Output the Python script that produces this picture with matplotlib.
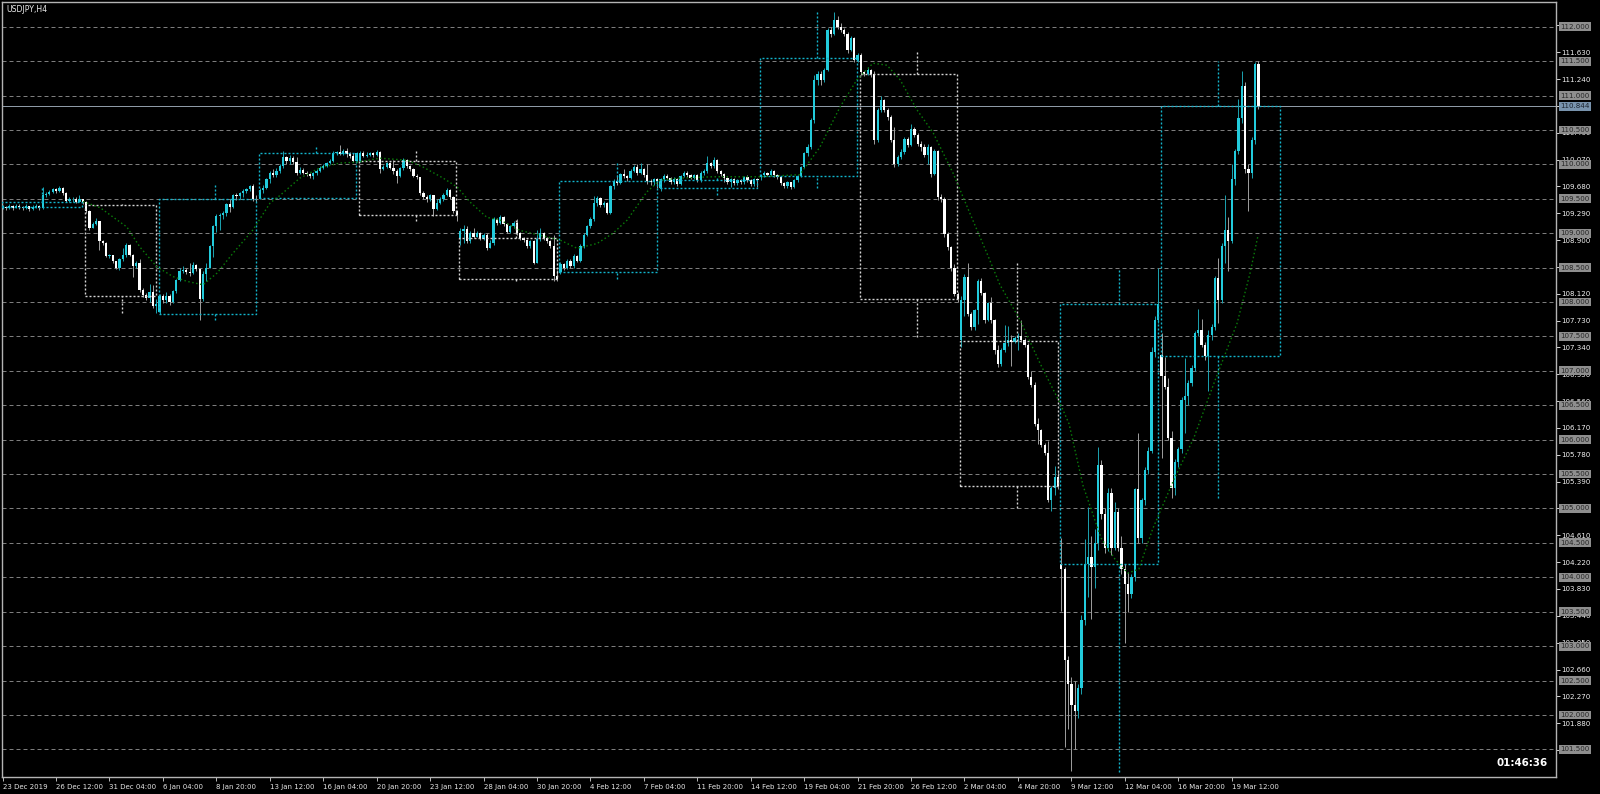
import numpy as np
import matplotlib
matplotlib.use("Agg")
import matplotlib.pyplot as plt
import matplotlib.transforms as mtransforms

plt.rcParams['lines.scale_dashes'] = False
plt.rcParams['font.family'] = ['DejaVu Sans']

# ---- H4 candles, USDJPY (bar index 0 = 23 Dec 2019 00:00) ----
closes = [
    109.38, 109.36, 109.39, 109.37, 109.40, 109.38, 109.36, 109.39, 109.35, 109.38, 109.40, 109.37, 109.55, 109.57, 109.60, 109.64,
    109.62, 109.66, 109.58, 109.47, 109.49, 109.50, 109.46, 109.49, 109.45, 109.32, 109.08, 109.13, 109.18, 108.88, 108.86, 108.67,
    108.68, 108.59, 108.50, 108.62, 108.68, 108.83, 108.69, 108.52, 108.57, 108.18, 108.10, 108.06, 108.15, 107.94, 107.97, 108.08,
    108.03, 108.09, 108.00, 108.16, 108.32, 108.45, 108.47, 108.43, 108.42, 108.54, 108.48, 108.04, 108.40, 108.50, 108.81, 109.10,
    109.25, 109.27, 109.30, 109.42, 109.38, 109.55, 109.54, 109.58, 109.61, 109.64, 109.68, 109.50, 109.49, 109.63, 109.66, 109.78,
    109.88, 109.85, 109.90, 109.97, 110.10, 110.05, 110.09, 110.04, 109.87, 109.92, 109.88, 109.86, 109.83, 109.87, 109.91, 109.95,
    109.97, 110.02, 110.05, 110.17, 110.18, 110.15, 110.19, 110.15, 110.12, 110.05, 110.16, 110.17, 110.12, 110.14, 110.16, 110.13,
    110.18, 109.93, 109.96, 110.02, 109.95, 109.90, 109.83, 109.94, 110.07, 109.97, 109.93, 109.83, 109.81, 109.59, 109.53, 109.49,
    109.55, 109.35, 109.44, 109.49, 109.56, 109.63, 109.52, 109.32, 109.26, 109.03, 109.06, 108.88, 109.00, 108.95, 109.00, 108.92,
    108.98, 108.79, 108.85, 109.20, 109.15, 109.24, 109.13, 109.02, 109.10, 109.15, 109.00, 108.93, 108.90, 108.81, 108.88, 108.57,
    108.91, 109.00, 108.93, 108.88, 108.81, 108.38, 108.33, 108.55, 108.50, 108.60, 108.52, 108.67, 108.60, 108.81, 108.98, 109.10,
    109.20, 109.44, 109.51, 109.41, 109.44, 109.30, 109.68, 109.76, 109.73, 109.86, 109.83, 109.80, 109.91, 109.96, 109.88, 109.93,
    109.85, 109.76, 109.74, 109.78, 109.76, 109.78, 109.83, 109.80, 109.75, 109.79, 109.72, 109.83, 109.88, 109.84, 109.80, 109.84,
    109.77, 109.88, 109.90, 110.02, 109.97, 110.07, 109.90, 109.86, 109.80, 109.74, 109.78, 109.73, 109.77, 109.74, 109.81, 109.77,
    109.71, 109.78, 109.77, 109.84, 109.87, 109.85, 109.90, 109.84, 109.81, 109.73, 109.69, 109.74, 109.67, 109.77, 109.83, 109.96,
    110.16, 110.25, 110.64, 111.22, 111.32, 111.22, 111.37, 111.95, 111.90, 112.10, 112.00, 111.95, 111.90, 111.66, 111.83, 111.51,
    111.59, 111.34, 111.32, 111.37, 111.32, 110.35, 110.79, 110.93, 110.79, 110.69, 110.35, 110.00, 110.11, 110.18, 110.37, 110.28,
    110.52, 110.42, 110.30, 110.25, 110.13, 110.25, 109.86, 110.20, 109.52, 109.50, 108.99, 108.80, 108.50, 108.12, 108.04, 108.03,
    108.37, 107.83, 107.64, 107.88, 108.30, 108.13, 107.74, 107.98, 107.74, 107.30, 107.10, 107.30, 107.40, 107.45, 107.42, 107.48,
    107.50, 107.45, 107.38, 106.91, 106.80, 106.23, 106.14, 105.92, 105.80, 105.12, 105.30, 105.46, 105.33, 104.12, 102.80, 102.45,
    102.15, 102.05, 102.39, 103.38, 104.20, 104.30, 104.15, 104.50, 105.63, 104.92, 104.42, 105.23, 104.42, 104.95, 104.42, 104.12,
    103.90, 103.76, 104.00, 105.28, 104.57, 105.12, 105.56, 105.83, 107.28, 107.74, 107.97, 106.92, 106.77, 106.02, 105.29, 105.68,
    105.87, 106.58, 106.63, 106.82, 107.04, 107.55, 107.60, 107.38, 107.21, 107.52, 107.64, 108.35, 108.03, 108.81, 109.05, 108.88,
    109.78, 110.19, 110.68, 111.14, 109.93, 109.87, 110.36, 111.46, 110.844,
]
highs = [
    109.41, 109.40, 109.42, 109.41, 109.43, 109.42, 109.40, 109.42, 109.40, 109.41, 109.43, 109.41, 109.67, 109.60, 109.63, 109.66,
    109.66, 109.69, 109.67, 109.60, 109.52, 109.53, 109.52, 109.55, 109.50, 109.47, 109.33, 109.16, 109.22, 109.18, 108.90, 108.87,
    108.70, 108.69, 108.60, 108.64, 108.79, 108.85, 108.84, 108.70, 108.60, 108.62, 108.20, 108.13, 108.26, 108.25, 108.05, 108.12,
    108.11, 108.14, 108.12, 108.18, 108.34, 108.50, 108.52, 108.50, 108.57, 108.58, 108.55, 108.50, 108.45, 108.56, 108.83, 109.12,
    109.28, 109.30, 109.32, 109.44, 109.50, 109.57, 109.58, 109.60, 109.64, 109.66, 109.70, 109.72, 109.55, 109.66, 109.70, 109.80,
    109.90, 109.93, 109.95, 110.00, 110.20, 110.12, 110.13, 110.12, 110.10, 109.96, 109.94, 109.90, 109.88, 109.89, 109.93, 109.97,
    110.00, 110.04, 110.08, 110.19, 110.20, 110.28, 110.22, 110.24, 110.18, 110.17, 110.18, 110.19, 110.19, 110.18, 110.18, 110.18,
    110.21, 110.20, 109.99, 110.04, 110.03, 110.07, 109.93, 109.96, 110.09, 110.08, 109.99, 109.95, 109.86, 109.82, 109.62, 109.56,
    109.57, 109.56, 109.50, 109.52, 109.58, 109.66, 109.64, 109.54, 109.33, 109.08, 109.12, 109.10, 109.03, 109.08, 109.03, 109.02,
    109.00, 109.00, 108.90, 109.24, 109.22, 109.26, 109.25, 109.15, 109.12, 109.17, 109.20, 109.02, 108.95, 108.92, 108.90, 108.90,
    109.05, 109.08, 109.02, 108.95, 108.90, 108.98, 108.46, 108.58, 108.57, 108.63, 108.62, 108.70, 108.69, 108.84, 109.00, 109.12,
    109.24, 109.54, 109.54, 109.52, 109.47, 109.46, 109.70, 109.79, 109.84, 109.88, 109.93, 109.85, 109.93, 109.99, 110.00, 110.02,
    109.95, 110.00, 109.79, 109.80, 109.80, 109.80, 109.86, 109.86, 109.82, 109.81, 109.80, 109.85, 109.90, 109.91, 109.86, 109.86,
    109.86, 109.90, 109.93, 110.12, 110.04, 110.10, 110.08, 109.92, 109.88, 109.82, 109.80, 109.80, 109.79, 109.79, 109.83, 109.84,
    109.79, 109.80, 109.80, 109.86, 109.90, 109.89, 109.93, 109.92, 109.86, 109.83, 109.75, 109.76, 109.75, 109.79, 109.85, 109.98,
    110.18, 110.29, 110.67, 111.30, 111.36, 111.35, 111.40, 111.98, 112.00, 112.22, 112.15, 112.06, 111.98, 111.92, 111.87, 111.85,
    111.62, 111.62, 111.36, 111.42, 111.38, 111.35, 110.82, 111.00, 110.95, 110.82, 110.72, 110.54, 110.14, 110.22, 110.40, 110.40,
    110.58, 110.54, 110.45, 110.34, 110.30, 110.30, 110.27, 110.23, 110.21, 109.57, 109.52, 109.02, 108.82, 108.55, 108.15, 108.08,
    108.40, 108.56, 107.86, 107.90, 108.33, 108.35, 108.15, 108.00, 108.07, 107.76, 107.38, 107.33, 107.67, 107.65, 107.52, 107.50,
    107.55, 107.74, 107.47, 107.40, 107.00, 106.84, 106.32, 106.16, 105.95, 105.98, 105.33, 105.62, 105.55, 104.57, 104.15, 102.85,
    102.55, 102.50, 102.45, 103.45, 104.55, 105.02, 104.60, 104.70, 105.90, 105.70, 105.00, 105.30, 105.30, 105.10, 105.00, 104.60,
    104.20, 104.07, 104.05, 105.30, 106.10, 105.15, 105.60, 105.90, 107.35, 107.80, 108.50, 107.55, 107.20, 106.90, 106.12, 105.72,
    105.90, 106.62, 107.18, 106.86, 107.08, 107.58, 107.90, 107.75, 107.42, 107.60, 107.68, 108.38, 108.64, 108.85, 109.56, 109.24,
    110.00, 110.22, 110.95, 111.36, 111.19, 110.00, 110.40, 111.49, 111.50,
]
lows = [
    109.35, 109.33, 109.35, 109.34, 109.36, 109.35, 109.33, 109.35, 109.32, 109.34, 109.37, 109.34, 109.35, 109.52, 109.55, 109.58,
    109.59, 109.60, 109.56, 109.45, 109.45, 109.46, 109.44, 109.45, 109.42, 109.30, 109.05, 109.07, 109.12, 108.76, 108.83, 108.65,
    108.64, 108.57, 108.48, 108.47, 108.60, 108.66, 108.67, 108.36, 108.50, 108.15, 108.07, 108.03, 108.00, 107.91, 107.84, 107.82,
    107.99, 107.98, 107.96, 107.99, 108.13, 108.30, 108.42, 108.40, 108.38, 108.40, 108.45, 107.74, 108.02, 108.30, 108.50, 108.65,
    109.02, 109.05, 109.20, 109.25, 109.31, 109.36, 109.48, 109.50, 109.53, 109.58, 109.61, 109.47, 109.46, 109.49, 109.58, 109.64,
    109.73, 109.82, 109.82, 109.88, 109.95, 110.00, 110.00, 110.01, 109.85, 109.86, 109.86, 109.83, 109.80, 109.78, 109.85, 109.89,
    109.93, 109.96, 110.00, 110.03, 110.13, 110.13, 110.14, 110.10, 110.09, 110.03, 110.04, 110.03, 110.10, 110.11, 110.12, 110.11,
    110.12, 109.88, 109.92, 109.94, 109.93, 109.86, 109.73, 109.82, 109.92, 109.95, 109.91, 109.81, 109.78, 109.56, 109.50, 109.46,
    109.47, 109.25, 109.33, 109.42, 109.47, 109.54, 109.50, 109.30, 109.17, 108.83, 108.86, 108.85, 108.86, 108.93, 108.94, 108.90,
    108.90, 108.76, 108.80, 108.83, 109.12, 109.13, 109.10, 109.00, 109.00, 109.08, 108.98, 108.90, 108.87, 108.78, 108.79, 108.55,
    108.56, 108.88, 108.90, 108.85, 108.78, 108.31, 108.30, 108.40, 108.47, 108.48, 108.50, 108.50, 108.58, 108.58, 108.78, 108.96,
    109.08, 109.18, 109.40, 109.38, 109.38, 109.28, 109.28, 109.64, 109.70, 109.71, 109.80, 109.76, 109.78, 109.89, 109.85, 109.86,
    109.82, 109.72, 109.70, 109.70, 109.65, 109.62, 109.75, 109.77, 109.72, 109.72, 109.69, 109.70, 109.81, 109.82, 109.78, 109.78,
    109.74, 109.75, 109.85, 109.88, 109.94, 109.95, 109.88, 109.83, 109.74, 109.72, 109.67, 109.70, 109.70, 109.72, 109.72, 109.75,
    109.69, 109.69, 109.67, 109.77, 109.82, 109.83, 109.83, 109.82, 109.79, 109.70, 109.65, 109.66, 109.64, 109.65, 109.75, 109.81,
    109.94, 110.12, 110.22, 110.60, 111.15, 111.15, 111.20, 111.35, 111.85, 111.88, 111.97, 111.92, 111.86, 111.62, 111.64, 111.48,
    111.49, 111.30, 111.28, 111.30, 111.27, 110.30, 110.33, 110.76, 110.76, 110.65, 110.32, 109.96, 109.98, 110.08, 110.15, 110.25,
    110.26, 110.40, 110.27, 110.20, 110.10, 110.00, 109.82, 109.84, 109.48, 109.45, 108.95, 108.75, 108.45, 108.08, 108.00, 107.35,
    107.79, 107.80, 107.60, 107.60, 107.68, 108.10, 107.70, 107.72, 107.70, 107.25, 107.05, 107.07, 107.28, 107.36, 107.07, 107.40,
    107.30, 107.42, 107.35, 106.88, 106.77, 106.20, 105.93, 105.90, 105.77, 105.10, 104.97, 105.20, 105.28, 103.51, 101.54, 101.79,
    101.19, 101.50, 101.95, 102.30, 103.30, 103.71, 103.40, 103.85, 104.40, 104.85, 104.35, 104.38, 104.32, 104.40, 104.38, 104.05,
    103.05, 103.50, 103.70, 103.95, 104.50, 104.50, 105.05, 105.50, 105.80, 107.20, 107.70, 105.73, 106.73, 105.99, 105.15, 105.20,
    105.60, 105.80, 106.10, 106.50, 106.78, 107.00, 107.50, 107.35, 107.15, 106.70, 107.45, 107.60, 107.70, 107.98, 108.57, 108.45,
    108.85, 109.70, 110.15, 110.60, 109.88, 109.32, 109.80, 110.30, 110.80,
]
# opens follow the previous close, except where the market gapped (mostly Mondays)
gap_opens = {0: 109.37, 47: 107.86, 107: 110.05, 137: 108.93, 167: 108.43,
             197: 109.65, 227: 109.83, 287: 107.45, 317: 104.19, 347: 107.23}

# ---- weekly candles drawn as dotted boxes ----
week_first = [0, 25, 47, 77, 107, 137, 167, 197, 227, 257, 287, 317, 347]
week_last = [24, 46, 76, 106, 136, 166, 196, 226, 256, 286, 316, 346, 382.5]
week_mid = [11.8, 35.8, 63.6, 93.8, 123.8, 153.8, 183.9, 213.8, 243.8, 273.8, 303.8, 334.3, 363.9]
week_open = [109.38, 109.41, 107.82, 109.51, 110.05, 108.93, 108.43, 109.65, 109.83, 111.31, 107.43, 104.19, 107.22]
week_close = [109.45, 108.09, 109.49, 110.16, 109.26, 108.33, 109.76, 109.77, 111.55, 108.04, 105.33, 107.97, 110.844]
week_high = [109.67, 109.43, 109.70, 110.28, 110.21, 109.20, 110.02, 109.80, 112.22, 111.64, 108.56, 108.50, 111.50]
week_low = [109.38, 107.84, 107.74, 109.51, 109.17, 108.30, 108.33, 109.55, 109.65, 107.49, 105.00, 101.17, 105.15]

# ---- dotted green curve (bar, price) ----
curve_bar = [24.1, 29.2, 37.2, 41.1, 46.2, 51.0, 55.2, 60.0, 64.2, 69.0, 75.0, 80.1, 83.1, 89.0, 95.0,
             101.0, 106.1, 113.0, 121.1, 125.9, 131.9, 136.1, 140.0, 145.0, 149.0, 154.9, 160.9, 166.9,
             172.0, 178.0, 182.8, 187.0, 192.9, 196.8, 202.8, 212.7, 226.8, 238.7, 244.7, 250.7, 255.8,
             260.6, 264.8, 268.7, 273.8, 278.6, 284.6, 289.6, 294.7, 298.6, 304.6, 310.6, 316.6, 319.3,
             323.5, 328.9, 333.1, 336.9, 340.2, 344.4, 350.7, 356.7, 363.0, 369.6, 373.5, 375.9]
curve_price = [109.46, 109.37, 109.09, 108.80, 108.51, 108.37, 108.30, 108.25, 108.42, 108.71, 109.05,
               109.44, 109.55, 109.80, 109.95, 110.02, 110.03, 110.09, 110.06, 109.96, 109.80, 109.67,
               109.45, 109.23, 109.19, 109.04, 108.97, 108.90, 108.78, 108.85, 109.00, 109.19, 109.60,
               109.77, 109.80, 109.82, 109.82, 109.85, 110.25, 110.83, 111.23, 111.47, 111.44, 111.23,
               110.79, 110.46, 109.87, 109.29, 108.71, 108.25, 107.74, 107.11, 106.53, 106.23, 105.33,
               104.57, 104.26, 104.06, 104.12, 104.71, 105.42, 106.03, 106.86, 107.69, 108.42, 108.97]

# ---- axis text ----
time_bars = [0, 16, 32, 48, 64, 80, 96, 112, 128, 144, 160, 176, 192, 208, 224, 240,
             256, 272, 288, 304, 320, 336, 352, 368]
time_labels = ["23 Dec 2019", "26 Dec 12:00", "31 Dec 04:00", "6 Jan 04:00", "8 Jan 20:00",
               "13 Jan 12:00", "16 Jan 04:00", "20 Jan 20:00", "23 Jan 12:00", "28 Jan 04:00",
               "30 Jan 20:00", "4 Feb 12:00", "7 Feb 04:00", "11 Feb 20:00", "14 Feb 12:00",
               "19 Feb 04:00", "21 Feb 20:00", "26 Feb 12:00", "2 Mar 04:00", "4 Mar 20:00",
               "9 Mar 12:00", "12 Mar 04:00", "16 Mar 20:00", "19 Mar 12:00"]
price_ticks = [101.49, 101.88, 102.27, 102.66, 103.05, 103.44, 103.83, 104.22, 104.61, 105.00,
               105.39, 105.78, 106.17, 106.56, 106.95, 107.34, 107.73, 108.12, 108.51, 108.90,
               109.29, 109.68, 110.07, 110.46, 110.85, 111.24, 111.63, 112.02]
level_lines = [101.5, 102.0, 102.5, 103.0, 103.5, 104.0, 104.5, 105.0, 105.5, 106.0, 106.5,
               107.0, 107.5, 108.0, 108.5, 109.0, 109.5, 110.0, 110.5, 111.0, 111.5, 112.0]
bid = 110.844

# colours
BULL = '#22cbdc'
BULL_WICK = '#1a9eab'
BEAR = '#ffffff'
BEAR_WICK = '#9a9a9a'
BOX_CYAN = '#12b4cc'
BOX_WHITE = '#d6d6d6'
GRID = '#7d7d7d'

W, H = 1600, 794
fig = plt.figure(figsize=(W / 100, H / 100), dpi=100, facecolor='black')
ax = fig.add_axes([2 / W, 17 / H, 1554 / W, 775 / H], facecolor='black')
ax.set_xlim(-0.18, 465.1)
ax.set_ylim(101.098, 112.359)

px = 0.72  # one pixel in points

for lv in level_lines:
    ax.axhline(lv, color=GRID, lw=px, dashes=(4 * px, 3 * px), zorder=1)
ax.axhline(bid, color='#8e9aa6', lw=px, zorder=1.5)

c = np.array(closes)
h = np.array(highs)
l = np.array(lows)
o = np.array([gap_opens.get(i, closes[i - 1] if i else closes[0]) for i in range(len(c))])
h = np.maximum(h, np.maximum(o, c))
l = np.minimum(l, np.minimum(o, c))
x = np.arange(len(c))
up = c >= o

ax.vlines(x[up], l[up], h[up], color=BULL_WICK, lw=px, zorder=2)
ax.vlines(x[~up], l[~up], h[~up], color=BEAR_WICK, lw=px, zorder=2)
lo = np.minimum(o, c)
ht = np.maximum(np.abs(c - o), 0.012)
ax.bar(x[up], ht[up], 0.68, bottom=lo[up], color=BULL, lw=0, zorder=2.5)
ax.bar(x[~up], ht[~up], 0.68, bottom=lo[~up], color=BEAR, lw=0, zorder=2.5)

# weekly boxes
dot = (2 * px, 2 * px)
for i in range(len(week_first)):
    col = BOX_CYAN if week_close[i] >= week_open[i] else BOX_WHITE
    x0, x1 = week_first[i] - 0.3, week_last[i] - 0.1
    top, bot = max(week_open[i], week_close[i]), min(week_open[i], week_close[i])
    ax.plot([x0, x1, x1, x0, x0], [bot, bot, top, top, bot], color=col, lw=1.0,
            dashes=dot, zorder=3)
    m = week_mid[i]
    if week_high[i] > top:
        ax.plot([m, m], [top, week_high[i]], color=col, lw=1.0, dashes=dot, zorder=3)
    if week_low[i] < bot:
        ax.plot([m, m], [week_low[i], bot], color=col, lw=1.0, dashes=dot, zorder=3)

ax.plot(curve_bar, curve_price, color='#0a7a0a', lw=1.0, dashes=(1.5 * px, 2.5 * px), zorder=4)

# frame
for s in ax.spines.values():
    s.set_color('#b4b4b4')
    s.set_linewidth(1.0)

# time axis
ax.set_xticks(time_bars)
ax.set_xticklabels(time_labels, ha='left')
ax.tick_params(axis='x', direction='out', length=4 * px, width=px, color='#b4b4b4',
               pad=2.5, labelsize=5.0, labelcolor='#e6e6e6')

# price axis
ax.yaxis.tick_right()
ax.set_yticks(price_ticks)
ax.set_yticklabels(['%.3f' % v for v in price_ticks])
ax.tick_params(axis='y', direction='out', length=4 * px, width=px, color='#d0d0d0',
               pad=1.0, labelsize=5.1, labelcolor='#f0f0f0')

tr = mtransforms.offset_copy(mtransforms.blended_transform_factory(ax.transAxes, ax.transData),
                             fig=fig, x=4, y=0, units='dots')
for lv in level_lines:
    ax.text(1.0, lv, '%.3f' % lv, transform=tr, fontsize=5.1, color='#262626',
            ha='left', va='center', clip_on=False, zorder=10,
            bbox=dict(boxstyle='square,pad=0.2', fc='#8e8e8e', ec='none'))
ax.text(1.0, bid, '%.3f' % bid, transform=tr, fontsize=5.1, color='#1c2530',
        ha='left', va='center', clip_on=False, zorder=11,
        bbox=dict(boxstyle='square,pad=0.2', fc='#7893ad', ec='none'))

fig.text(6 / W, 1 - 9 / H, 'USDJPY,H4', fontsize=5.6, color='#eaeaea', ha='left', va='center')
fig.text(1548 / W, 1 - 763 / H, '01:46:36', fontsize=7.4, color='white', fontweight='bold',
         ha='right', va='center')

fig.savefig('out.png', dpi=100, facecolor='black')
